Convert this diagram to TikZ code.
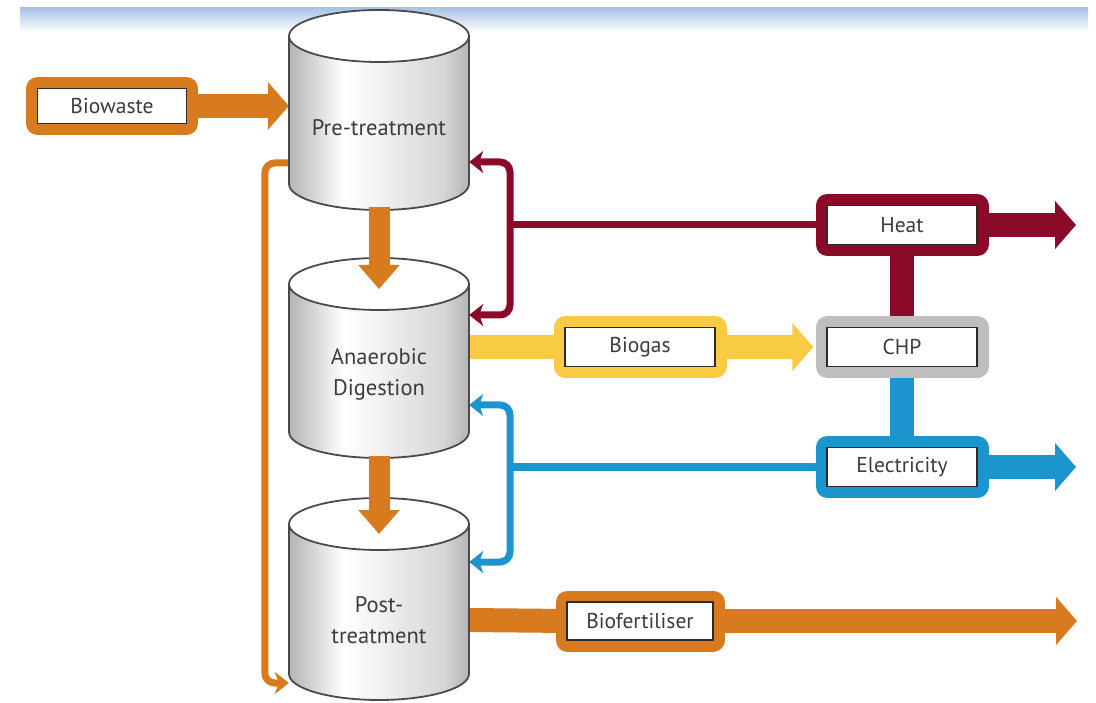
\documentclass[tikz,border=0pt]{standalone}
\usepackage{fontspec}
\setmainfont{PT Sans}
\usetikzlibrary{arrows.meta,calc}
\pgfdeclarelayer{background}
\pgfsetlayers{background,main}

\definecolor{orangeflow}{HTML}{D87A1E}
\definecolor{heatred}{HTML}{8B0A2A}
\definecolor{gasyellow}{HTML}{F9CB45}
\definecolor{powerblue}{HTML}{1C95CF}
\definecolor{chpgrey}{HTML}{BEBEBE}
\definecolor{labeltext}{HTML}{3C3C3C}
\definecolor{boxline}{HTML}{2E2A28}
\definecolor{drumedge}{HTML}{B4B4B4}
\definecolor{drumline}{HTML}{4A4A4A}
\definecolor{stripblue}{HTML}{A9C4E6}

% left-to-right grey/white shading for the tank bodies
\pgfdeclarehorizontalshading{drumshade}{100bp}{%
  color(0bp)=(drumedge); color(25bp)=(drumedge);
  color(40bp)=(white); color(50bp)=(white!95!black);
  color(68bp)=(drumedge!55!white); color(75bp)=(drumedge);
  color(100bp)=(drumedge)}

% one tank: #1 = centre y of the top ellipse, #2 = centre y of the bottom ellipse
\newcommand\drawtank[2]{%
  \shade[shading=drumshade] (289,-#1) -- (289,-#2)
    arc[start angle=180,end angle=360,x radius=90pt,y radius=26pt]
    -- (469,-#1) -- cycle;
  \draw[drumline, line width=1.8pt] (289,-#1) -- (289,-#2)
    arc[start angle=180,end angle=360,x radius=90pt,y radius=26pt]
    -- (469,-#1);
  \filldraw[fill=white, draw=drumline, line width=1.8pt]
    (379,-#1) ellipse[x radius=90pt, y radius=26pt];
}

\tikzset{
  tanklabel/.style={inner sep=0pt, minimum width=180pt, align=center,
    text=labeltext, font=\fontsize{22.5}{31}\selectfont},
  flowbox/.style={draw=boxline, line width=1.5pt, fill=white, inner sep=0pt,
    minimum width=150pt, minimum height=39pt, text=labeltext,
    font=\fontsize{21.5}{25}\selectfont,
    preaction={draw=#1, line width=23pt, line join=round}},
  bigflow/.style={draw=#1, line width=24pt, -{Triangle[length=21pt,width=47pt]}},
  downflow/.style={draw=#1, line width=21pt, -{Triangle[length=24pt,width=40pt]}},
  bar/.style={draw=#1, line width=24pt},
  thinflow/.style={draw=#1, line width=7pt, rounded corners=10pt},
  thintip/.style={-{Stealth[length=14pt,width=22pt,inset=4pt]}},
}

\begin{document}
\begin{tikzpicture}[x=1pt,y=1pt]
\useasboundingbox (0,0) rectangle (1096,-703);

% tanks
\drawtank{36}{184}
\drawtank{284}{432}
\drawtank{524}{674}

\node[tanklabel] (pre) at (379,-128) {Pre-treatment};
\node[tanklabel] (ad) at (379,-374) {Anaerobic\\Digestion};
\node[tanklabel] (post) at (379,-620) {Post-\\treatment};

\coordinate (pre-bot) at (379,-207);
\coordinate (ad-top) at (379,-289);
\coordinate (ad-bot) at (379,-456);
\coordinate (post-top) at (379,-534);

% flow from tank to tank, over the lids
\draw[downflow=orangeflow] (pre-bot) -- (ad-top);
\draw[downflow=orangeflow] (ad-bot) -- (post-top);

% labelled boxes
\node[flowbox=orangeflow, minimum width=149pt, minimum height=35pt] (bw) at (112,-106) {Biowaste};
\node[flowbox=heatred] (heat) at (902,-225) {Heat};
\node[flowbox=chpgrey] (chp) at (902,-347) {CHP};
\node[flowbox=powerblue] (elec) at (902,-467) {Electricity};
\node[flowbox=gasyellow] (gas) at (640,-347) {Biogas};
\node[flowbox=orangeflow, minimum width=146pt, minimum height=38pt] (fert) at (640,-621) {Biofertiliser};

\coordinate (heat-out) at (1076,-225);
\coordinate (elec-out) at (1076,-467);
\coordinate (fert-out) at (1077,-621);
\coordinate (heat-join) at (510,-225);
\coordinate (elec-join) at (510,-467);

\begin{pgfonlayer}{background}
  \fill[white] (0,0) rectangle (1096,-703);
  \shade[top color=stripblue, bottom color=white] (20,-8) rectangle (1088,-32);

  % main material flow
  \draw[bigflow=orangeflow] (bw.east) -- (bw.east -| pre.west);
  \draw[thinflow=orangeflow, thintip] ([yshift=-35pt]pre.west) -- ++(-24,0)
     |- ([yshift=-63pt]post.west);

  % biogas to CHP
  \draw[bar=gasyellow] (gas.west -| ad.east) -- (gas.west);
  \draw[bigflow=gasyellow, shorten >=13pt] (gas.east) -- (chp.west);

  % heat
  \draw[bar=heatred] (heat.south) -- (chp.north);
  \draw[bigflow=heatred] (heat.east) -- (heat-out);
  \draw[thinflow=heatred] (heat.west) -- (heat-join);
  \draw[thinflow=heatred, thintip] (heat-join) |- ([yshift=-34pt]pre.east);
  \draw[thinflow=heatred, thintip] (heat-join) |- ([yshift=59pt]ad.east);

  % electricity
  \draw[bar=powerblue] (chp.south) -- (elec.north);
  \draw[bigflow=powerblue] (elec.east) -- (elec-out);
  \draw[thinflow=powerblue] (elec.west) -- (elec-join);
  \draw[thinflow=powerblue, thintip] (elec-join) |- ([yshift=-31pt]ad.east);
  \draw[thinflow=powerblue, thintip] (elec-join) |- ([yshift=58pt]post.east);

  % digestate
  \draw[bar=orangeflow] (post.east) -- (fert.west);
  \draw[bigflow=orangeflow] (fert.east) -- (fert-out);
\end{pgfonlayer}
\end{tikzpicture}
\end{document}
